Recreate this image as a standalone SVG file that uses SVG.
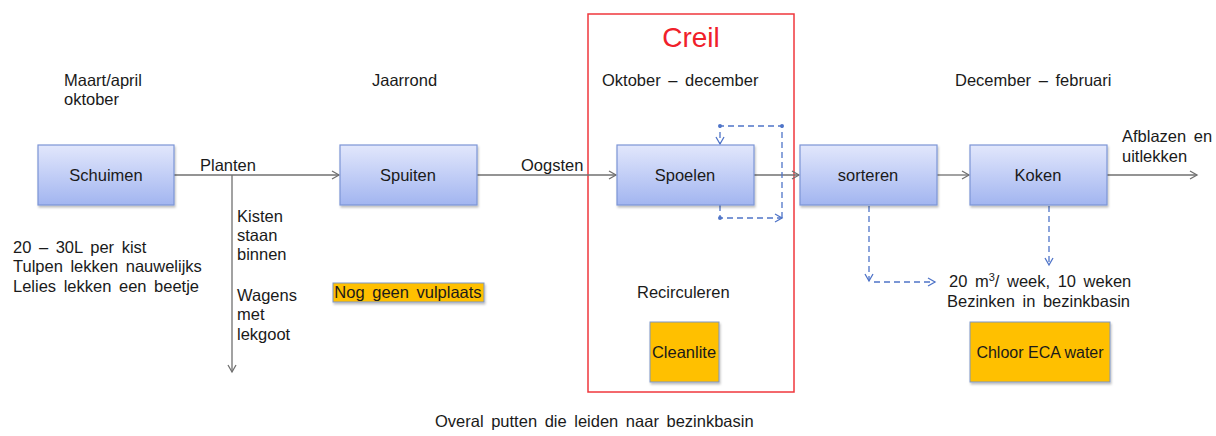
<svg xmlns="http://www.w3.org/2000/svg" width="1216" height="436" viewBox="0 0 1216 436">
<style>
text{font-family:"Liberation Sans",Arial,sans-serif;font-size:16.5px;word-spacing:3px;fill:#1a1a1a}
.box{fill:url(#g);stroke:#7c95d6;stroke-width:1.2}
.yel{fill:#ffc000;stroke:#7c95c6;stroke-width:1}
.ln{fill:none;stroke:#707070;stroke-width:1.3}
.dash{fill:none;stroke:#4f74c8;stroke-width:1.3;stroke-dasharray:6 4}
.c{text-anchor:middle}
</style>
<defs>
<linearGradient id="g" x1="0" y1="0" x2="0" y2="1">
<stop offset="0" stop-color="#e2e7fc"/>
<stop offset="1" stop-color="#a2b5f0"/>
</linearGradient>
<filter id="sh" x="-10%" y="-10%" width="130%" height="140%">
<feDropShadow dx="1" dy="2" stdDeviation="1.2" flood-color="#000" flood-opacity="0.25"/>
</filter>
<marker id="ag" markerWidth="10" markerHeight="10" refX="8" refY="5" orient="auto" markerUnits="userSpaceOnUse">
<path d="M1,1 L8,5 L1,9" fill="none" stroke="#707070" stroke-width="1.3"/>
</marker>
<marker id="ab" markerWidth="10" markerHeight="10" refX="8" refY="5" orient="auto" markerUnits="userSpaceOnUse">
<path d="M1,1 L8,5 L1,9" fill="none" stroke="#4f74c8" stroke-width="1.3"/>
</marker>
</defs>

<rect x="0" y="0" width="1216" height="436" fill="#fff"/>

<g id="creil">
<rect x="588" y="14" width="206" height="378" fill="none" stroke="#f0373c" stroke-width="1.5"/>
<text x="691" y="47" class="c" style="font-size:28px;fill:#f0202a">Creil</text>
</g>

<g id="labels">
<text x="64" y="86">Maart/april</text>
<text x="64" y="105">oktober</text>
<text x="372" y="86">Jaarrond</text>
<text x="602" y="86">Oktober – december</text>
<text x="955" y="86">December – februari</text>
<text x="13" y="253">20 – 30L per kist</text>
<text x="13" y="272">Tulpen lekken nauwelijks</text>
<text x="13" y="292">Lelies lekken een beetje</text>
<text x="237" y="222">Kisten</text>
<text x="237" y="241">staan</text>
<text x="237" y="260">binnen</text>
<text x="237" y="301">Wagens</text>
<text x="237" y="320">met</text>
<text x="237" y="340">lekgoot</text>
<text x="637" y="298">Recirculeren</text>
<text x="1122" y="142">Afblazen en</text>
<text x="1122" y="162">uitlekken</text>
<text x="949" y="287">20 m<tspan dy="-6" style="font-size:11px">3</tspan><tspan dy="6">/ week, 10 weken</tspan></text>
<text x="947" y="307">Bezinken in bezinkbasin</text>
<text x="435" y="427">Overal putten die leiden naar bezinkbasin</text>
</g>

<g id="connectors">
<line x1="174" y1="175" x2="339" y2="175" class="ln" marker-end="url(#ag)"/>
<text x="200" y="171">Planten</text>
<line x1="232" y1="175" x2="232" y2="372" class="ln" marker-end="url(#ag)"/>
<line x1="477" y1="175" x2="616" y2="175" class="ln" marker-end="url(#ag)"/>
<text x="521" y="171">Oogsten</text>
<line x1="754" y1="175" x2="799" y2="175" class="ln" marker-end="url(#ag)"/>
<line x1="937" y1="175" x2="969" y2="175" class="ln" marker-end="url(#ag)"/>
<line x1="1107" y1="175" x2="1197" y2="175" class="ln" marker-end="url(#ag)"/>
<polyline points="720,205 720,218 782,218" class="dash" marker-end="url(#ab)"/>
<polyline points="782,218 782,126 720,126 720,144" class="dash" marker-end="url(#ab)"/>
<circle cx="720" cy="218" r="2" fill="#4f74c8"/>
<circle cx="720" cy="126" r="2" fill="#4f74c8"/>
<circle cx="782" cy="126" r="2" fill="#4f74c8"/>
<line x1="869" y1="206" x2="869" y2="281" class="dash" marker-end="url(#ab)"/>
<line x1="874" y1="282" x2="935" y2="282" class="dash" marker-end="url(#ab)"/>
<line x1="1049" y1="206" x2="1049" y2="265" class="dash" marker-end="url(#ab)"/>
</g>

<g id="schuimen"><rect x="38" y="145" width="136" height="60" class="box" filter="url(#sh)"/><text x="106" y="181" class="c">Schuimen</text></g>
<g id="spuiten"><rect x="340" y="145" width="137" height="60" class="box" filter="url(#sh)"/><text x="408" y="181" class="c">Spuiten</text></g>
<g id="spoelen"><rect x="617" y="145" width="137" height="60" class="box" filter="url(#sh)"/><text x="685" y="181" class="c">Spoelen</text></g>
<g id="sorteren"><rect x="800" y="145" width="137" height="60" class="box" filter="url(#sh)"/><text x="868" y="181" class="c">sorteren</text></g>
<g id="koken"><rect x="970" y="145" width="137" height="60" class="box" filter="url(#sh)"/><text x="1038" y="181" class="c">Koken</text></g>

<g id="vulplaats"><rect x="333" y="283" width="151" height="19" class="yel" filter="url(#sh)"/><text x="408" y="298" class="c">Nog geen vulplaats</text></g>
<g id="cleanlite"><rect x="650" y="322" width="69" height="60" class="yel" filter="url(#sh)"/><text x="684" y="358" class="c" style="word-spacing:0">Cleanlite</text></g>
<g id="chloor"><rect x="970" y="322" width="140" height="60" class="yel" filter="url(#sh)"/><text x="1040" y="358" class="c" style="font-size:16px;word-spacing:0">Chloor ECA water</text></g>
</svg>
